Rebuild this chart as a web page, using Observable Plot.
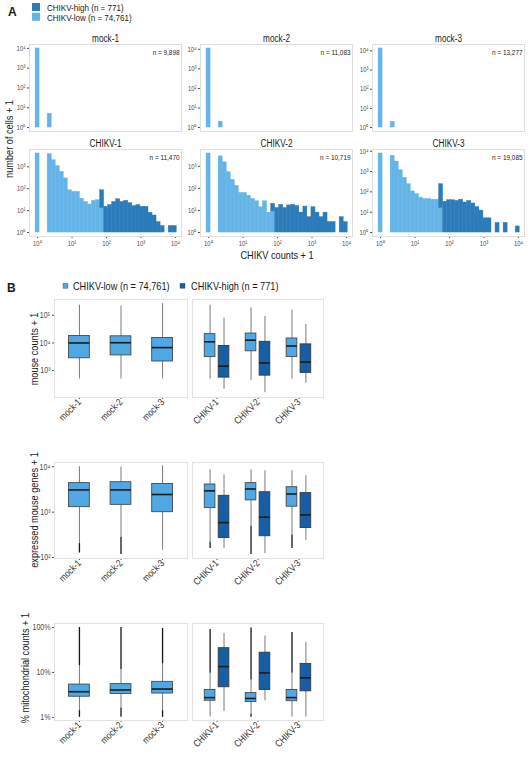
<!DOCTYPE html>
<html>
<head>
<meta charset="utf-8">
<script src="https://cdn.jsdelivr.net/npm/d3@7"></script>
<script src="https://cdn.jsdelivr.net/npm/@observablehq/plot@0.6"></script>
<style>
  body { margin: 0; background: #fff; }
  #fig { position: relative; width: 530px; height: 760px; overflow: hidden; background: #fff; }
</style>
</head>
<body>
<div id="fig"></div>
<script>
// ---------------- fonts & colours ----------------
const FONT = '"Liberation Sans", Arial, sans-serif';
const NARROW_RATIO = 0.82;          // the reference uses a narrow sans face
const LIGHT_A = "#64b4e8", DARK_A = "#2c7bba";
const LIGHT_B = "#4fa7e3", DARK_B = "#165ea6";

// ---------------- Panel A : histograms ----------------
const histSamples = ["mock-1", "mock-2", "mock-3", "CHIKV-1", "CHIKV-2", "CHIKV-3"];
const histN = [9898, 11083, 13277, 11470, 10719, 19085];
const BIN_WIDTH = 0.117;            // bin width in log10(CHIKV counts + 1); bin 0 centred at 10^0
const xTicksA = [1, 10, 100, 1000, 10000];
// number of cells + 1 per bin (0 = empty bin)
const mock1Low = [9895, 0, 0, 5];
const mock2Low = [11080, 0, 0, 2];
const mock3Low = [13275, 0, 0, 2];
const chikv1Low = [4070, 0, 0, 3800, 2000, 1070, 590, 295, 85, 72, 72, 35, 25, 19, 28, 30, 13];
const chikv1High = [0,0,0,0,0,0,0,0,0,0,0,0,0,0,0,0, 85, 15, 18, 25, 33, 25, 28, 22, 16, 18, 15, 15, 8, 6, 3, 2, 0, 2, 2];
const chikv2Low = [3800, 0, 0, 2800, 1500, 540, 245, 130, 62, 62, 47, 33, 26, 14, 26, 8, 9];
const chikv2High = [0,0,0,0,0,0,0,0,0,0,0,0,0,0,0,0, 20, 13, 18, 13, 17, 18, 16, 8, 15, 5, 14, 8, 5, 8, 3, 3, 0, 5, 3];
const chikv3Low = [7760, 0, 0, 5900, 3100, 1170, 500, 240, 105, 78, 52, 44, 44, 41, 41, 16];
const chikv3High = [0,0,0,0,0,0,0,0,0,0,0,0,0,0,0, 240, 33, 39, 39, 36, 41, 30, 36, 27, 18, 12, 5, 5, 0, 3, 0, 3, 0, 0, 2];
const histLow = [mock1Low, mock2Low, mock3Low, chikv1Low, chikv2Low, chikv3Low];
const histHigh = [[], [], [], chikv1High, chikv2High, chikv3High];

// ---------------- Panel B : box plots ----------------
const mockNames = ["mock-1", "mock-2", "mock-3"];
const chikvNames = ["CHIKV-1", "CHIKV-2", "CHIKV-3"];
// each box: [lower whisker, Q1, median, Q3, upper whisker]
const countsMockLow  = [[500, 2800, 10000, 17800, 229000], [500, 3550, 10200, 17400, 214000], [500, 2140, 6800, 15100, 263000]];
const countsChikvLow = [[500, 3090, 11000, 20900, 229000], [440, 5010, 12600, 21900, 186000], [500, 3090, 7760, 14500, 151000]];
const countsChikvHigh = [[214, 560, 1450, 7760, 79400], [160, 660, 1900, 11000, 91200], [355, 830, 2040, 8900, 46800]];
const genesMockLow  = [[204, 1290, 3090, 4370, 10000], [282, 1450, 3090, 4570, 9770], [145, 1000, 2450, 4170, 10500]];
const genesChikvLow = [[219, 1230, 2950, 4070, 8510], [490, 1820, 3240, 4370, 8510], [316, 1320, 2510, 3550, 8130]];
const genesChikvHigh = [[158, 269, 589, 2290, 6610], [123, 295, 776, 2750, 8130], [240, 447, 871, 2630, 6310]];
const mitoMockLow  = [[1.41, 2.88, 3.72, 5.37, 14.1], [1.62, 3.31, 4.07, 5.50, 11.7], [1.41, 3.39, 4.27, 6.17, 15.5]];
const mitoChikvLow = [[1.02, 2.34, 2.75, 4.07, 9.55], [1.17, 2.19, 2.63, 3.47, 6.76], [1.02, 2.29, 2.75, 4.07, 9.55]];
const mitoChikvHigh = [[1.35, 4.68, 13.5, 34.7, 74.1], [2.34, 4.07, 9.77, 27.5, 64.6], [1.02, 3.80, 7.59, 15.5, 46.8]];
// outlier extents [lowest outlier, highest outlier] (null = none)
const genesMockOut  = [[126, null], [117, null], [null, null]];
const genesChikvOut = [[158, null], [117, null], [158, null]];
const mitoMockOut  = [[1.0, 100], [1.0, 100], [1.0, 95]];
const mitoChikvOut = [[null, 91], [1.0, 98], [null, 77.6]];

const legendA = [{label: "CHIKV-high (n = 771)", color: DARK_A}, {label: "CHIKV-low (n = 74,761)", color: LIGHT_A}];
const legendB = [{label: "CHIKV-low (n = 74,761)", color: LIGHT_B}, {label: "CHIKV-high (n = 771)", color: DARK_B}];

// ---------------- helpers ----------------
const fig = document.getElementById("fig");
const SUP = {"0": "⁰", "1": "¹", "2": "²", "3": "³", "4": "⁴", "5": "⁵", "-": "⁻"};
const pow10 = d => "10" + String(Math.round(Math.log10(d))).split("").map(c => SUP[c]).join("");
const pct = d => d + "%";
const fmtN = d3.format(",");
function place(node, left, top) {
  node.style.position = "absolute";
  node.style.left = left + "px";
  node.style.top = top + "px";
  fig.appendChild(node);
}
const baseStyle = fs => ({fontFamily: FONT, fontSize: fs, color: "#4d4d4d", background: "transparent", overflow: "visible"});

// ---------------- Panel A layout ----------------
const A_LEFT = [29, 200, 372], A_TOP = [44, 149], A_W = 152, A_H = 87;
const xDomA = [10 ** -0.234, 10 ** 4.175];

histSamples.forEach((name, idx) => {
  const col = idx % 3, row = Math.floor(idx / 3);
  const low = histLow[idx], high = histHigh[idx];
  const edge = (b, s) => 10 ** ((b + s) * BIN_WIDTH);
  const bars = [];
  low.forEach((v, b) => { if (v > 1) bars.push({x1: edge(b, -0.5), x2: edge(b, 0.5), y1: 1, y2: v, grp: "low"}); });
  high.forEach((v, b) => { if (v > 1) bars.push({x1: edge(b, -0.5), x2: edge(b, 0.5), y1: Math.max(1, low[b] || 1), y2: v, grp: "high"}); });
  const maxLog = Math.log10(d3.max(bars, d => d.y2));
  const yDom = [10 ** (-0.05 * maxLog), 10 ** (1.05 * maxLog)];
  const yTicks = xTicksA.filter(t => t >= yDom[0] && t <= yDom[1]);
  const ml = 22, mr = 4, mt = 16, mb = 14;
  const svg = Plot.plot({
    width: A_W + ml + mr, height: A_H + mt + mb,
    marginLeft: ml, marginRight: mr, marginTop: mt, marginBottom: mb,
    style: baseStyle("7.2px"),
    x: {type: "log", domain: xDomA, ticks: xTicksA, tickFormat: pow10, tickSize: 2, tickPadding: 2, label: null, axis: row === 1 ? "bottom" : null},
    y: {type: "log", domain: yDom, ticks: yTicks, tickFormat: pow10, tickSize: 2, tickPadding: 2, label: null},
    marks: [
      Plot.frame({stroke: "#dedede"}),
      Plot.rect(bars.filter(d => d.grp === "low"), {x1: "x1", x2: "x2", y1: "y1", y2: "y2", fill: LIGHT_A, stroke: LIGHT_A, strokeWidth: 0.4}),
      Plot.rect(bars.filter(d => d.grp === "high"), {x1: "x1", x2: "x2", y1: "y1", y2: "y2", fill: DARK_A, stroke: DARK_A, strokeWidth: 0.4}),
      Plot.text([name], {text: d => d, frameAnchor: "top", dy: -3, lineAnchor: "bottom", fontSize: 10, fontWeight: "normal", fill: "#1a1a1a"}),
      Plot.text([`n = ${fmtN(histN[idx])}`], {text: d => d, frameAnchor: "top-right", dx: -2, dy: 5, fontSize: 7.8, fill: "#1a1a1a", textAnchor: "end"})
    ]
  });
  place(svg, A_LEFT[col] - ml, A_TOP[row] - mt);
});

// ---------------- Panel B layout ----------------
const B_LEFT = [54, 192], B_W = [133, 131];
const B_TOP = [299, 462, 623], B_H = [98, 96, 97];
const DODGE = 0.17, NARROW = 0.26, WIDE = 0.5;

function boxRows(lowArr, highArr, lowOut) {
  const rows = [];
  lowArr.forEach((v, i) => {
    const off = highArr ? -DODGE : 0, w = highArr ? NARROW : WIDE;
    const o = lowOut ? lowOut[i] : [null, null];
    rows.push({pos: i + 1 + off, w, grp: "low", wLo: v[0], q1: v[1], med: v[2], q3: v[3], wHi: v[4], oLo: o[0], oHi: o[1]});
    if (highArr) {
      const h = highArr[i];
      rows.push({pos: i + 1 + DODGE, w: NARROW, grp: "high", wLo: h[0], q1: h[1], med: h[2], q3: h[3], wHi: h[4], oLo: null, oHi: null});
    }
  });
  return rows;
}

function boxPanel(r, side, rows, names, yDom, yTicks, yFmt) {
  const ml = 32, mr = 3, mt = 4, mb = 50;
  const svg = Plot.plot({
    width: B_W[side] + ml + mr, height: B_H[r] + mt + mb,
    marginLeft: ml, marginRight: mr, marginTop: mt, marginBottom: mb,
    style: baseStyle("8.6px"),
    x: {domain: [0.4, 3.6], ticks: [1, 2, 3], tickFormat: d => names[d - 1], tickRotate: -45, tickSize: 2, tickPadding: 1, label: null},
    y: {type: "log", domain: yDom, ticks: yTicks, tickFormat: yFmt, tickSize: 2, tickPadding: 2, label: null, axis: side === 0 ? "left" : null},
    marks: [
      Plot.frame({stroke: "#e2e2e2"}),
      Plot.ruleX(rows, {x: "pos", y1: "wLo", y2: "wHi", stroke: "#7a7a7a", strokeWidth: 1}),
      Plot.ruleX(rows.filter(d => d.oLo != null), {x: "pos", y1: "oLo", y2: "wLo", stroke: "#161616", strokeWidth: 1.3}),
      Plot.ruleX(rows.filter(d => d.oHi != null), {x: "pos", y1: "wHi", y2: "oHi", stroke: "#161616", strokeWidth: 1.3}),
      Plot.rect(rows.filter(d => d.grp === "low"), {x1: d => d.pos - d.w / 2, x2: d => d.pos + d.w / 2, y1: "q1", y2: "q3", fill: LIGHT_B, stroke: "#4a4a4a", strokeWidth: 0.9}),
      Plot.rect(rows.filter(d => d.grp === "high"), {x1: d => d.pos - d.w / 2, x2: d => d.pos + d.w / 2, y1: "q1", y2: "q3", fill: DARK_B, stroke: "#3a3a3a", strokeWidth: 0.9}),
      Plot.ruleY(rows, {y: "med", x1: d => d.pos - d.w / 2, x2: d => d.pos + d.w / 2, stroke: "#1a1a1a", strokeWidth: 1.6})
    ]
  });
  // larger, darker rotated category labels
  svg.querySelectorAll("g[aria-label='x-axis tick label'] text, g[aria-label='x-axis'] text").forEach(t => {
    t.setAttribute("font-size", "9.8px"); t.style.fontSize = "9.8px"; t.style.fill = "#333";
  });
  place(svg, B_LEFT[side] - ml, B_TOP[r] - mt);
}

const bRows = [
  {dom: [10 ** 2.03, 10 ** 5.57], ticks: [1000, 10000, 100000], fmt: pow10,
   mock: boxRows(countsMockLow, null, null), chikv: boxRows(countsChikvLow, countsChikvHigh, null)},
  {dom: [10 ** 1.98, 10 ** 4.094], ticks: [100, 1000, 10000], fmt: pow10,
   mock: boxRows(genesMockLow, null, genesMockOut), chikv: boxRows(genesChikvLow, genesChikvHigh, genesChikvOut)},
  {dom: [10 ** -0.07, 10 ** 2.09], ticks: [1, 10, 100], fmt: pct,
   mock: boxRows(mitoMockLow, null, mitoMockOut), chikv: boxRows(mitoChikvLow, mitoChikvHigh, mitoChikvOut)}
];
bRows.forEach((b, r) => {
  boxPanel(r, 0, b.mock, mockNames, b.dom, b.ticks, b.fmt);
  boxPanel(r, 1, b.chikv, chikvNames, b.dom, b.ticks, b.fmt);
});

// ---------------- overlay text: labels, legends, axis titles ----------------
const ov = d3.create("svg").attr("width", 530).attr("height", 760)
  .style("position", "absolute").style("left", "0px").style("top", "0px").style("pointer-events", "none")
  .attr("font-family", FONT).attr("fill", "#1a1a1a");
ov.append("text").attr("class", "wide").attr("x", 8).attr("y", 15.5).attr("font-weight", "bold").attr("font-size", 12).text("A");
ov.append("text").attr("class", "wide").attr("x", 7).attr("y", 291.5).attr("font-weight", "bold").attr("font-size", 12).text("B");

legendA.forEach((d, i) => {
  ov.append("rect").attr("x", 32).attr("y", 3 + i * 9.8).attr("width", 8).attr("height", 8).attr("fill", d.color);
  ov.append("text").attr("x", 47).attr("y", 10.8 + i * 9.8).attr("font-size", 9.8).text(d.label);
});
const legBX = [[63, 73], [180, 191]];
legendB.forEach((d, i) => {
  ov.append("rect").attr("x", legBX[i][0]).attr("y", 283.3).attr("width", 5).attr("height", 5).attr("fill", d.color).attr("stroke", "#333").attr("stroke-width", 0.3);
  ov.append("text").attr("x", legBX[i][1]).attr("y", 289.8).attr("font-size", 11.2).text(d.label);
});

const rotTitle = (x, y, s) => ov.append("text").attr("transform", `translate(${x},${y}) rotate(-90)`)
  .attr("text-anchor", "middle").attr("dominant-baseline", "central").attr("font-size", 11.2).text(s);
rotTitle(8.5, 139, "number of cells + 1");
ov.append("text").attr("x", 277).attr("y", 255).attr("text-anchor", "middle").attr("dominant-baseline", "central").attr("font-size", 11.2).text("CHIKV counts + 1");
rotTitle(34, 349, "mouse counts + 1");
rotTitle(34, 510, "expressed mouse genes + 1");
rotTitle(25, 668, "% mitochondrial counts + 1");

fig.appendChild(ov.node());

// compress every text horizontally to mimic the narrow face of the reference
fig.querySelectorAll("text").forEach(t => {
  if (t.classList.contains("wide")) return;
  const w = t.getComputedTextLength();
  if (w > 0) {
    t.setAttribute("textLength", (w * NARROW_RATIO).toFixed(2));
    t.setAttribute("lengthAdjust", "spacingAndGlyphs");
  }
});
</script>
</body>
</html>
